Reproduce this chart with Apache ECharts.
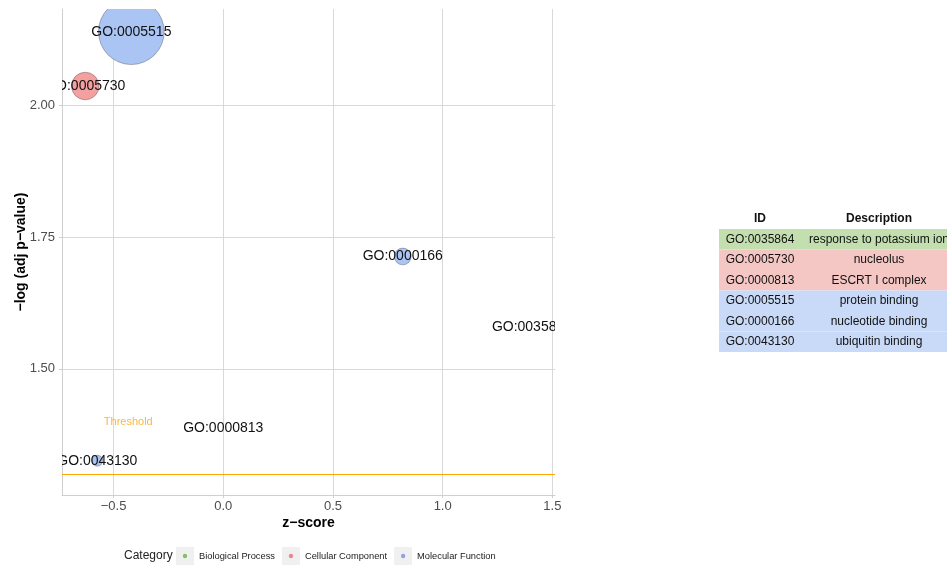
<!DOCTYPE html>
<html>
<head>
<meta charset="utf-8">
<script src="https://cdn.jsdelivr.net/npm/echarts@6/dist/echarts.min.js"></script>
<style>
  html, body { margin: 0; padding: 0; background: #ffffff; }
  #chart { width: 947px; height: 567px; }
</style>
</head>
<body>
<div id="chart"></div>
<script>
// GO terms: enrichment z-score vs. -log10(adjusted p-value), bubble area ~ gene count
const goIds = ['GO:0035864', 'GO:0005730', 'GO:0000813', 'GO:0005515', 'GO:0000166', 'GO:0043130'];
const descriptions = ['response to potassium ion', 'nucleolus', 'ESCRT I complex', 'protein binding', 'nucleotide binding', 'ubiquitin binding'];
const termCategories = ['Biological Process', 'Cellular Component', 'Cellular Component', 'Molecular Function', 'Molecular Function', 'Molecular Function'];
const zScores = [1.407, -0.629, 0.0, -0.419, 0.818, -0.574];
const negLogAdjP = [1.580, 2.036, 1.387, 2.139, 1.713, 1.326];
const geneCounts = [1, 20, 1, 109, 8, 4];

const categoryNames = ['Biological Process', 'Cellular Component', 'Molecular Function'];
const xTicks = [-0.5, 0, 0.5, 1.0, 1.5];
const yTicks = [1.5, 1.75, 2.0];
const adjPThreshold = 0.05;
const thresholdText = 'Threshold';

const FONT = "'Liberation Sans', Arial, Helvetica, sans-serif";
const bubbleFill = {
  'Biological Process': '#a9d18e',
  'Cellular Component': '#f4a0a0',
  'Molecular Function': '#aac4f3'
};
const legendDot = {
  'Biological Process': '#86bf62',
  'Cellular Component': '#e68a8a',
  'Molecular Function': '#8aa6de'
};
const tableFill = {
  'Biological Process': '#c3dfb0',
  'Cellular Component': '#f4c7c5',
  'Molecular Function': '#c9daf8'
};

const thresholdY = -Math.log10(adjPThreshold);
const thresholdLabelAt = [-0.433, 1.400];

// bubble radius from gene count (smallest count maps to a zero-area point)
function bubbleRadius(count) {
  return Math.sqrt(Math.max(count - 1, 0) * 10);
}
const minusFmt = (s) => s.replace('-', '\u2212');

// bubbles + their labels, clipped to the plotting panel
function renderBubble(params, api) {
  const p = api.coord([api.value(0), api.value(1)]);
  const r = bubbleRadius(api.value(2));
  const term = api.value(3);
  const children = [];
  if (r > 0.5) {
    children.push({
      type: 'circle',
      shape: { cx: p[0], cy: p[1], r: r },
      style: { fill: bubbleFill[termCategories[term]], stroke: 'rgba(60,60,60,0.6)', lineWidth: 0.6 }
    });
  }
  children.push({
    type: 'text',
    z2: 10,
    style: { x: p[0], y: p[1], text: goIds[term], align: 'center', verticalAlign: 'middle', font: '14px ' + FONT, fill: '#111' }
  });
  return { type: 'group', children: children };
}

const bubbleSeries = categoryNames.map((cat) => ({
  name: cat,
  type: 'custom',
  xAxisIndex: 0,
  yAxisIndex: 0,
  clip: true,
  silent: true,
  itemStyle: { color: legendDot[cat] },
  renderItem: renderBubble,
  encode: { x: 0, y: 1 },
  data: goIds.map((id, i) => i)
    .filter((i) => termCategories[i] === cat)
    .map((i) => [zScores[i], negLogAdjP[i], geneCounts[i], i])
}));

const thresholdSeries = {
  name: 'threshold',
  type: 'scatter',
  xAxisIndex: 0,
  yAxisIndex: 0,
  symbolSize: 0.01,
  label: { show: true, position: 'inside', formatter: thresholdText, color: '#FFA500', fontSize: 11, fontFamily: FONT },
  emphasis: { disabled: true },
  data: [thresholdLabelAt],
  markLine: {
    silent: true,
    symbol: ['none', 'none'],
    label: { show: false },
    lineStyle: { color: '#FFA500', width: 1, type: 'solid' },
    emphasis: { disabled: true },
    data: [{ yAxis: thresholdY }]
  },
  z: 3
};

// side table: header + one row per GO term
const tableRows = ['header'].concat(goIds);
const idColWidth = 82;
const tableWidth = 238;
const tableVisibleWidth = 228;

function renderTableRow(params, api) {
  const row = api.value(1);
  const a = api.coord([0, row]);
  const m = api.coord([idColWidth, row]);
  const b = api.coord([tableWidth, row]);
  const h = api.size([0, 1])[1];
  const children = [];
  const isHeader = row === 0;
  if (!isHeader) {
    children.push({
      type: 'rect',
      shape: { x: a[0], y: a[1] - h / 2, width: b[0] - a[0], height: h },
      style: { fill: tableFill[termCategories[row - 1]] }
    });
  }
  const font = (isHeader ? 'bold ' : '') + '12px ' + FONT;
  children.push({
    type: 'text',
    style: { x: (a[0] + m[0]) / 2, y: a[1], text: isHeader ? 'ID' : goIds[row - 1], align: 'center', verticalAlign: 'middle', font: font, fill: '#111' }
  });
  children.push({
    type: 'text',
    style: { x: (m[0] + b[0]) / 2, y: a[1], text: isHeader ? 'Description' : descriptions[row - 1], align: 'center', verticalAlign: 'middle', font: font, fill: '#111' }
  });
  return { type: 'group', children: children };
}

const tableSeries = {
  type: 'custom',
  xAxisIndex: 1,
  yAxisIndex: 1,
  clip: false,
  silent: true,
  renderItem: renderTableRow,
  encode: { x: 0, y: 1 },
  data: tableRows.map((r, i) => [0, i])
};

const legendBase = {
  orient: 'horizontal',
  left: 176,
  top: 547,
  padding: 0,
  itemWidth: 18,
  itemHeight: 18,
  itemGap: 7,
  selectedMode: false,
  textStyle: { fontSize: 9.3, fontFamily: FONT, color: '#222' }
};

const option = {
  animation: false,
  backgroundColor: '#ffffff',
  textStyle: { fontFamily: FONT },
  title: {
    text: 'Category',
    left: 124,
    top: 550,
    padding: 0,
    textStyle: { fontSize: 12, fontWeight: 'normal', color: '#222', fontFamily: FONT }
  },
  legend: [
    Object.assign({}, legendBase, {
      icon: 'rect',
      itemStyle: { borderWidth: 0 },
      data: categoryNames.map((c) => ({ name: c, itemStyle: { color: '#f0f0f0', borderWidth: 0 } }))
    }),
    Object.assign({}, legendBase, {
      icon: 'path://M0 0L0 0M18 18L18 18M9 6.8A2.2 2.2 0 1 0 9 11.2A2.2 2.2 0 1 0 9 6.8Z',
      itemStyle: { borderWidth: 0 },
      textStyle: Object.assign({}, legendBase.textStyle, { color: 'rgba(0,0,0,0)' }),
      data: categoryNames.map((c) => ({ name: c, itemStyle: { color: legendDot[c], borderWidth: 0 } }))
    })
  ],
  grid: [
    { left: 62, top: 9, width: 493, height: 486, containLabel: false },
    { left: 719, top: 208.5, width: tableVisibleWidth, height: 143.5, containLabel: false }
  ],
  xAxis: [
    {
      gridIndex: 0, type: 'value', min: -0.735, max: 1.512,
      name: 'z\u2212score', nameLocation: 'middle', nameGap: 21, nameMoveOverlap: false,
      nameTextStyle: { fontWeight: 'bold', fontSize: 14, color: '#000', fontFamily: FONT },
      axisLine: { show: true, onZero: false, lineStyle: { color: '#cfcfcf', width: 1 } },
      axisTick: { show: true, length: 3, customValues: xTicks, lineStyle: { color: '#cfcfcf' } },
      axisLabel: { customValues: xTicks, formatter: (v) => minusFmt(v.toFixed(1)), color: '#4d4d4d', fontSize: 13, margin: 5, fontFamily: FONT },
      splitLine: { show: true, lineStyle: { color: '#d9d9d9', width: 1 } }
    },
    { gridIndex: 1, type: 'value', min: 0, max: tableVisibleWidth, show: false }
  ],
  yAxis: [
    {
      gridIndex: 0, type: 'value', min: 1.261, max: 2.182,
      name: '\u2212log (adj p\u2212value)', nameLocation: 'middle', nameGap: 34, nameMoveOverlap: false,
      nameTextStyle: { fontWeight: 'bold', fontSize: 14, color: '#000', fontFamily: FONT },
      axisLine: { show: true, onZero: false, lineStyle: { color: '#cfcfcf', width: 1 } },
      axisTick: { show: true, length: 3, customValues: yTicks, lineStyle: { color: '#cfcfcf' } },
      axisLabel: { customValues: yTicks, formatter: (v) => v.toFixed(2), color: '#4d4d4d', fontSize: 13, margin: 7, fontFamily: FONT },
      splitLine: { show: true, lineStyle: { color: '#d9d9d9', width: 1 } }
    },
    { gridIndex: 1, type: 'category', data: tableRows, inverse: true, show: false }
  ],
  series: bubbleSeries.concat([thresholdSeries, tableSeries])
};

const chart = echarts.init(document.getElementById('chart'), null, { renderer: 'canvas' });
chart.setOption(option);
</script>
</body>
</html>
